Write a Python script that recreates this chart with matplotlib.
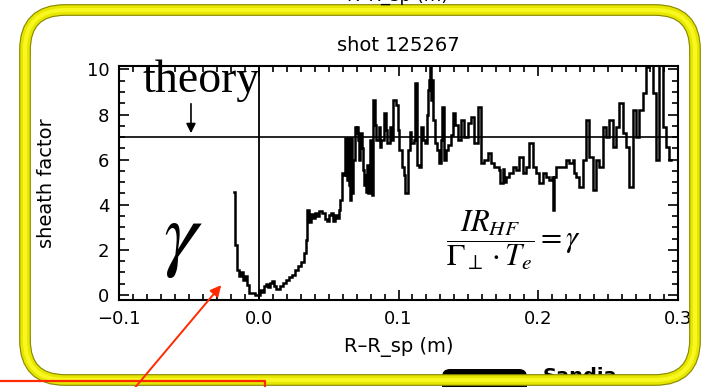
import matplotlib
matplotlib.use("Agg")
import matplotlib.pyplot as plt
from matplotlib.patches import FancyBboxPatch
from matplotlib.ticker import MultipleLocator
import numpy as np

# ---------------- data ----------------
R_mm = [-17.6, -16.8, -15.4, -14.0, -12.5, -11.1, -9.7, -8.2, -6.8, -4.7, -2.5, -0.4,
        1.1, 2.5, 3.9, 5.4, 6.8, 8.2, 9.7, 11.1, 12.5, 14.0, 15.4, 17.6, 19.7, 21.9,
        24.0, 26.2, 28.3, 30.5, 32.6, 34.1, 34.8, 36.2, 37.6, 39.1, 40.5, 41.9, 43.4,
        45.5, 47.7, 49.1, 50.5, 52.0, 53.4, 54.8, 56.3, 57.7, 58.4, 59.9, 61.3, 62.0,
        62.7, 63.5, 64.2, 64.9, 65.6, 66.3, 67.0, 67.7, 69.2, 69.9, 70.6, 71.3, 72.0,
        72.8, 74.2, 74.9, 75.6, 76.3, 77.1, 77.8, 78.5, 79.9, 80.7, 82.1, 83.5, 84.2,
        85.7, 87.1, 87.8, 89.3, 90.7, 92.1, 93.6, 95.0, 96.4, 97.9, 99.3, 100.7, 102.2,
        103.6, 105.0, 106.5, 107.9, 109.3, 110.8, 111.5, 112.9, 114.4, 115.8, 117.2,
        118.7, 120.1, 120.8, 121.5, 122.3, 123.0, 123.7, 124.4, 125.8, 127.3, 128.7,
        130.1, 130.9, 132.3, 133.7, 135.2, 137.3, 138.7, 140.2, 142.3, 144.5, 146.6,
        149.5, 151.6, 153.8, 156.7, 158.8, 161.0, 163.8, 166.0, 168.1, 171.7, 172.4,
        174.6, 175.3, 176.7, 178.9, 181.8, 183.9, 186.1, 189.0, 191.1, 193.2, 196.1,
        198.3, 200.4, 203.3, 205.4, 207.6, 209.7, 210.4, 211.2, 212.6, 216.2, 219.8,
        221.9, 224.8, 225.5, 227.0, 229.1, 232.0, 234.2, 236.3, 239.2, 241.3, 243.4,
        246.3, 248.5, 250.6, 253.5, 255.6, 257.8, 260.6, 262.8, 264.9, 267.8, 270.0,
        272.1, 275.0, 277.1, 279.3, 282.1, 284.3, 286.4, 289.3, 291.4, 293.6, 295.0]
sheath = [4.56, 2.22, 1.11, 0.84, 1.02, 0.66, 0.84, 0.44, 0.09, 0.09, 0.0, 0.0,
          0.22, 0.13, 0.40, 0.49, 0.35, 0.53, 0.62, 0.40, 0.27, 0.27, 0.40, 0.53, 0.66, 0.80,
          0.89, 1.11, 1.28, 1.46, 1.86, 2.44, 3.77, 3.23, 3.59, 3.41, 3.63, 3.50, 3.72,
          3.63, 3.37, 3.28, 3.54, 3.63, 3.28, 3.54, 3.41, 3.77, 4.21, 5.40, 5.32, 6.96,
          5.32, 5.10, 6.96, 4.87, 4.21, 6.96, 4.52, 5.98, 7.44, 7.18, 7.44, 6.87, 5.98,
          7.18, 6.51, 5.54, 4.87, 5.32, 4.56, 5.76, 4.52, 6.87, 4.43, 8.64, 7.53, 6.87,
          7.44, 6.56, 6.87, 8.06, 7.31, 6.73, 7.44, 6.87, 8.64, 8.42, 7.31, 6.42, 5.67,
          5.32, 4.52, 6.42, 7.22, 6.73, 6.87, 9.39, 5.76, 5.67, 7.44, 6.87,
          6.73, 7.97, 9.08, 9.52, 10.6, 8.64, 9.52, 7.75, 6.73, 6.42, 5.85,
          6.87, 8.33, 5.98, 6.42, 6.65, 7.09, 8.06, 7.53, 6.87, 7.75, 7.00,
          7.62, 7.89, 6.73, 8.33, 5.85, 5.98, 6.29, 5.85, 5.67, 5.54, 4.96,
          5.60, 5.00, 5.23, 5.40, 5.67, 5.54, 6.11, 5.40, 5.67, 6.73, 5.67,
          5.40, 4.96, 5.40, 5.23, 5.10, 5.23, 3.77, 5.23, 5.67, 5.67, 5.98,
          5.85, 5.98, 5.40, 5.23, 4.78, 5.98, 7.75, 6.11, 4.65, 5.98, 5.67,
          7.44, 7.00, 7.75, 6.56, 7.44, 8.51, 7.18, 6.56, 4.78, 8.20, 7.00,
          8.20, 8.95, 10.1, 10.6, 8.95, 5.98, 10.6, 7.44, 6.56, 5.98, 5.98]
theory_value = 7.0
xticks = [-0.1, 0.0, 0.1, 0.2, 0.3]
xtick_labels = ["\u22120.1", "0.0", "0.1", "0.2", "0.3"]
yticks = [0, 2, 4, 6, 8, 10]
ytick_labels = ["0", "2", "4", "6", "8", "10"]

W, H = 713, 387
fig = plt.figure(figsize=(W / 100, H / 100), dpi=100)
fig.patch.set_facecolor("white")

# ---------------- main axes ----------------
ax = fig.add_axes([119 / W, 1 - 300 / H, (678 - 119) / W, (300 - 66) / H])
ax.set_zorder(2)
x = np.array(R_mm) / 1000.0
ax.plot(x, sheath, drawstyle="steps-post", color="black", lw=1.8, solid_joinstyle="miter")
ax.axhline(theory_value, color="black", lw=1.2)
ax.axvline(0.0, color="black", lw=1.3)
ax.set_xlim(-0.1, 0.3)
ax.set_ylim(-0.22, 10.15)
ax.set_xticks(xticks)
ax.set_xticklabels(xtick_labels)
ax.set_yticks(yticks)
ax.set_yticklabels(ytick_labels)
ax.xaxis.set_minor_locator(MultipleLocator(0.01))
ax.yaxis.set_minor_locator(MultipleLocator(0.5))
ax.tick_params(which="both", direction="in", top=True, right=True, width=1.2,
               labelsize=13, colors="black")
ax.tick_params(which="major", length=7, pad=7)
ax.tick_params(which="minor", length=4)
for s in ax.spines.values():
    s.set_linewidth(1.5)
ax.set_xlabel("R\u2013R_sp (m)", fontsize=14, labelpad=7)
ax.set_ylabel("sheath factor", fontsize=14, labelpad=22)
ax.set_title("shot 125267", fontsize=14, pad=11)

ax.text(0.0005, 9.5, "theory", family="Liberation Serif", fontsize=33, ha="right",
        va="center", color="black")
ax.annotate("", xy=(-0.0485, 7.05), xytext=(-0.0485, 8.6),
            arrowprops=dict(arrowstyle="-|>", color="black", lw=1.2, mutation_scale=14))
ax.text(-0.054, 2.5, r"$\gamma$", math_fontfamily="stix", fontsize=62,
        ha="center", va="center", color="black")
ax.text(0.182, 2.45, r"$\dfrac{IR_{HF}}{\Gamma_{\perp}\cdot T_{e}} = \gamma$",
        math_fontfamily="stix", fontsize=22, ha="center", va="center", color="black")

# ---------------- overlay (slide decorations) ----------------
ov = fig.add_axes([0, 0, 1, 1])
ov.set_zorder(3)
ov.set_xlim(0, W)
ov.set_ylim(H, 0)
ov.axis("off")
ov.patch.set_alpha(0)

# cut-off label of the plot above
ov.text(398, -4, "R\u2013R_sp (m)", fontsize=13, ha="center", va="center", color="black")

# logo pieces under the frame
ov.add_patch(FancyBboxPatch((442, 369), 85, 30, boxstyle="round,pad=0,rounding_size=8",
                            facecolor="black", edgecolor="none", zorder=0.5))
ov.text(543, 367, "Sandia", fontsize=14, fontweight="bold", ha="left", va="top",
        color="black", zorder=0.6)

# yellow frame
fx0, fy0, fx1, fy1 = 25, 10, 695, 380
for i, (lw, col) in enumerate([(8.5, "#8a8a00"), (6.8, "#e6e600"), (3.0, "#f8f820")]):
    ov.add_patch(FancyBboxPatch((fx0, fy0), fx1 - fx0, fy1 - fy0,
                                boxstyle="round,pad=0,rounding_size=40",
                                facecolor="none", edgecolor=col, lw=lw, zorder=1.5 + 0.1 * i))

# red annotation
ov.plot([0, 265, 265], [381, 381, 390], color="#ff2a00", lw=1.6, zorder=4)
ov.annotate("", xy=(223, 283), xytext=(133, 390),
            arrowprops=dict(arrowstyle="-|>", color="#ff2a00", lw=1.4, mutation_scale=16),
            zorder=4)

fig.savefig("out.png", dpi=100)
